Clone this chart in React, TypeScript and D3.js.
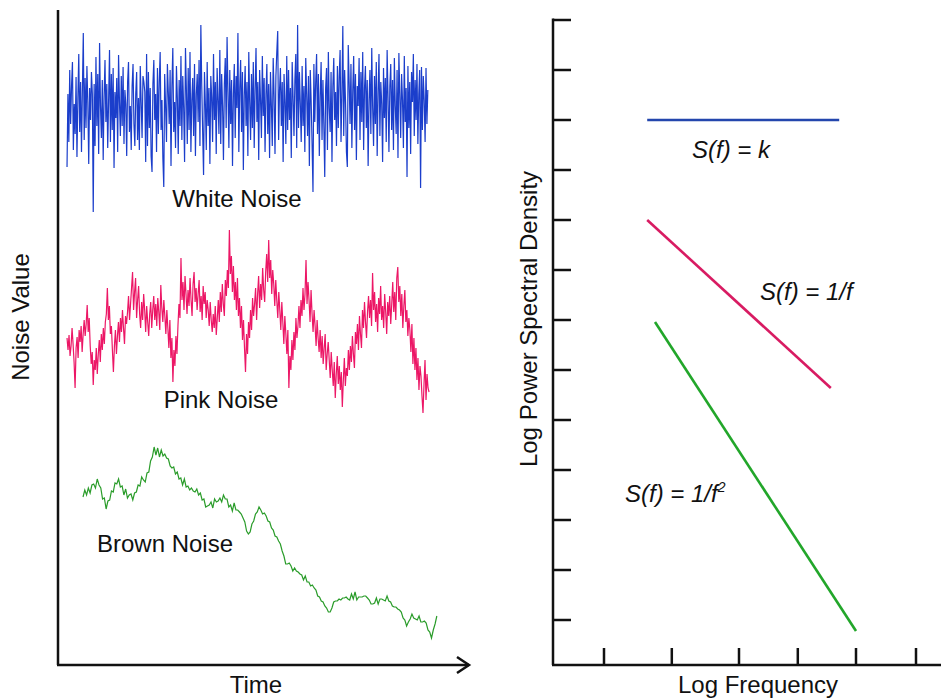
import React from "react";
import * as d3 from "d3";

// ---------- Data ----------
// Time-series noise values (offset from each trace's own baseline, up = positive)
const whiteNoise = [
  -55, 18, -30, 42, -12, 26, 50, -38, 8, -22, 35, -45, 14, 58, -20, 30, -40, 22, 79, -28,
  34, -16, 46, 10, -52, 24, -8, 40, 18, -100, 28, -34, 55, -14, 38, -42, 69, 6, -26, 32,
  -48, 16, 52, -10, 28, -36, 12, 62, -30, 38, -18, 44, -56, 20, -6, 34, -40, 57, 10, -24,
  36, -14, 45, -32, 22, 8, -44, 30, 50, -20, 6, -38, 26, 48, -12, -34, 18, 40, -28, 14,
  -38, 46, 10, -26, 36, 30, 20, -50, 58, -34, 40, -16, 24, -44, -60, 28, 52, -8, 18, -40,
  44, -22, 30, 60, -18, 12, -46, -75, 38, 6, -30, 48, 20, -12, 42, -54, 26, 64, -20, 10,
  -36, 46, 14, -42, 32, -14, 56, -28, 36, 4, -50, 64, 22, -32, 44, -18, 60, -40, 12, 34,
  -24, 48, -44, 18, 38, -10, 52, -34, 87, 26, -20, -63, 40, 8, -38, 50, -14, 24, -52, 36,
  14, -30, 58, -8, 30, -42, 44, 12, -22, 62, -32, 38, 6, -48, 28, 54, -16, 75, 20, -36,
  42, -12, 32, -54, 18, 48, -26, 36, 4, 79, -40, 24, 52, -20, 40, -58, 16, 46, -14, 30,
  -44, 60, 10, -28, 38, -16, 50, -36, 22, 64, -10, 30, -48, 42, 12, -26, 56, -4, 34, -40,
  18, 48, -22, 28, -46, 40, 6, -34, 54, 16, -42, 36, 60, 81, -28, 22, 44, -14, 30, -50,
  38, 10, -32, 56, -18, 42, -8, 24, -46, 50, 14, -24, 32, 58, -36, 87, -16, 40, 8, -30,
  46, -14, 26, -40, 54, 18, -24, 36, -54, 42, 10, -32, -80, 48, -10, 30, 58, -22, 38, -44,
  16, 50, -28, 32, -12, -65, 24, 44, -38, 60, 4, -20, 40, -50, 26, 54, -8, 20, -34, 46,
  -16, 36, 62, -30, 18, 86, -24, 42, 10, -40, -55, 67, 30, -12, 48, -36, 22, 56, -18, 38,
  -48, 26, 6, 54, -28, 40, -10, 60, -38, 24, 46, -16, 32, -54, 12, 42, -22, 64, 4, -34,
  36, -12, 50, -44, 20, 58, -24, 30, 8, -50, 44, -6, 34, -30, 62, 14, -40, 26, 48, -18,
  32, -38, 54, 6, -22, 42, -46, 59, 18, -26, 38, 12, -36, 56, -10, 24, -65, 46, -16, 30,
  -42, 40, 10, 58, -24, 32, -8, 48, -32, 18, 42, -76, 45, -18, 36, 12, -30, 44, -12, 22,
];

const pinkNoise = [
  2, -10, 5, -16, -6, 12, -4, -22, -48, -8, 3, -18, 10, -2, 14, -12, 6, 20, 4, 16,
  35, 8, 22, -6, -24, -12, -45, -20, -30, -8, -34, -14, 0, -22, 6, -10, 12, -4, 18, 26,
  52, 20, 34, 6, 14, -10, -32, -6, 10, -14, 4, 18, -2, 22, 8, 30, 12, -4, 24, 16,
  28, 44, 20, 36, 52, 68, 30, 48, 62, 22, 40, 54, 26, 12, 38, 20, 46, 30, 8, 34,
  18, 4, 26, 38, 12, 30, 44, 20, 36, 14, 42, 28, 10, 55, 32, 18, 40, 24, 6, 30,
  12, -8, 20, -18, 2, -42, -10, -26, 4, -14, 14, 36, 22, 82, 40, 58, 30, 64, 46, 26,
  50, 34, 62, 40, 24, 56, 68, 38, 52, 30, 46, 60, 28, 44, 20, 54, 36, 48, 22, 40,
  30, 14, 38, 20, 8, 26, 12, 34, 5, 22, 40, 18, 48, 28, 56, 36, 24, 60, 44, 70,
  52, 110, 66, 84, 48, 74, 40, 58, 30, 62, 24, 42, 12, 34, 0, 20, -8, -32, 6, -14,
  18, 2, 30, 10, 42, 24, 36, 52, 20, 46, 64, 32, 56, 40, 72, 50, 38, 68, 86, 58,
  100, 62, 80, 46, 70, 56, 34, 60, 40, 22, 48, 30, 10, 38, 18, -4, 24, 6, -14, 10,
  -48, -16, -30, 0, -20, 8, -10, 22, 2, 14, 34, 12, 40, 24, 52, 30, 46, 80, 36, 58,
  40, 18, 50, 26, 8, 30, 14, -6, 20, 2, -12, 10, -18, 4, -24, -8, 6, -30, -14, -2,
  -20, -38, -12, -30, -46, -22, -58, -34, -16, -44, -26, -50, -32, -67, -40, -18, -46, -28, -36, -10,
  -30, -6, -22, 4, -14, -28, 8, -4, 16, -10, 24, 6, -8, 30, 12, 38, 18, 2, 28, 44,
  22, 40, 14, 67, 30, 48, 18, 36, 8, 42, 26, 54, 20, 34, 12, 46, 28, 6, 38, 24,
  44, 16, 36, 58, 28, 48, 20, 62, 73, 38, 54, 24, 46, 12, 34, 50, 18, 30, 4, 22,
  10, -12, 16, -24, 2, -30, -8, -40, -18, -50, -26, -36, -56, -73, -44, -20, -60, -34, -48, -52,
];

const brownNoise = [
  48, 55, 50, 57, 52, 60, 61, 57, 66, 60,
  57, 46, 47, 36, 44, 45, 54, 53, 62, 61,
  66, 58, 59, 50, 56, 47, 50, 51, 45, 52,
  53, 60, 59, 68, 65, 63, 72, 73, 84, 88,
  98, 90, 97, 88, 95, 89, 91, 87, 86, 79,
  77, 78, 71, 73, 66, 67, 60, 66, 58, 59,
  55, 57, 54, 53, 56, 50, 52, 45, 46, 38,
  39, 40, 43, 37, 46, 43, 44, 47, 43, 50,
  46, 46, 38, 40, 34, 42, 35, 35, 33, 31,
  27, 23, 14, 11, 13, 21, 24, 31, 33, 38,
  35, 31, 32, 29, 24, 23, 17, 15, 9, 8,
  4, 1, -6, -11, -19, -19, -18, -21, -26, -23,
  -26, -27, -29, -30, -35, -31, -37, -37, -41, -40,
  -43, -45, -51, -52, -56, -57, -61, -63, -67, -67,
  -63, -57, -56, -56, -54, -55, -53, -53, -52, -54,
  -55, -49, -54, -47, -55, -52, -52, -52, -51, -51,
  -53, -55, -59, -59, -58, -53, -59, -54, -54, -55,
  -56, -51, -56, -57, -61, -62, -62, -64, -65, -67,
  -73, -75, -81, -77, -74, -69, -73, -74, -75, -71,
  -77, -77, -76, -78, -85, -87, -93, -85, -79, -71,
];

// Spectra: [log frequency, log power] endpoints
const whiteSpectrum: [number, number][] = [[1.57, 11], [4.77, 11]];
const pinkSpectrum: [number, number][] = [[1.57, 9], [4.63, 5.64]];
const brownSpectrum: [number, number][] = [[1.7, 6.96], [5.05, 0.78]];

const psdXTicks = [0.85, 1.98, 3.1, 4.08, 5.05, 6.05];
const psdYTicks = [1, 2, 3, 4, 5, 6, 7, 8, 9, 10, 11, 12, 13];

// ---------- Layout ----------
const W = 941;
const H = 700;
const FONT = "'Liberation Sans', Arial, Helvetica, sans-serif";

export default function App() {
  // Left panel: time vs noise value
  const tScale = d3.scaleLinear().domain([0, 100]).range([58, 468]);
  const vScale = d3.scaleLinear().domain([0, 655]).range([665, 10]);

  const traces = [
    { data: whiteNoise, t0: 2.2, t1: 90.2, base: 553, color: "#1b3ecb", width: 1.2 },
    { data: pinkNoise, t0: 2.2, t1: 90.5, base: 325, color: "#ec1766", width: 1.2 },
    { data: brownNoise, t0: 6.1, t1: 92.4, base: 120, color: "#2a9c2a", width: 1.2 },
  ];

  // Right panel: log frequency vs log PSD
  const fScale = d3.scaleLinear().domain([0, 7]).range([553, 973]);
  const sScale = d3.scaleLinear().domain([0, 13]).range([670, 20]);
  const spectra = [
    { data: whiteSpectrum, color: "#2346ad" },
    { data: pinkSpectrum, color: "#d81b62" },
    { data: brownSpectrum, color: "#22a62a" },
  ];
  const specLine = d3
    .line<[number, number]>()
    .x((d) => fScale(d[0]))
    .y((d) => sScale(d[1]));

  const axisColor = "#111";

  return (
    <svg
      width={W}
      height={H}
      style={{ position: "absolute", left: 0, top: 0, background: "#fff" }}
      fontFamily={FONT}
    >
      <rect width={W} height={H} fill="#fff" />

      {/* ----- Left panel ----- */}
      {traces.map((tr, k) => {
        const n = tr.data.length;
        const line = d3
          .line<number>()
          .x((_, i) => tScale(tr.t0 + ((tr.t1 - tr.t0) * i) / (n - 1)))
          .y((v) => vScale(tr.base + v));
        return (
          <path
            key={k}
            d={line(tr.data) || ""}
            fill="none"
            stroke={tr.color}
            strokeWidth={tr.width}
            strokeLinejoin="miter"
          />
        );
      })}

      <line x1={tScale(0)} y1={vScale(0)} x2={tScale(0)} y2={vScale(655)} stroke={axisColor} strokeWidth={2.5} />
      <line x1={tScale(0) - 1} y1={vScale(0)} x2={tScale(100) + 1} y2={vScale(0)} stroke={axisColor} strokeWidth={2.5} />
      <polyline
        points={`${tScale(100) - 11},${vScale(0) - 8} ${tScale(100) + 1},${vScale(0)} ${tScale(100) - 11},${vScale(0) + 8}`}
        fill="none"
        stroke={axisColor}
        strokeWidth={2.5}
      />

      <text x={237} y={207} fontSize={24} textAnchor="middle" fill="#111">White Noise</text>
      <text x={221} y={408} fontSize={24} textAnchor="middle" fill="#111">Pink Noise</text>
      <text x={165} y={552} fontSize={24} textAnchor="middle" fill="#111">Brown Noise</text>
      <text x={256} y={693} fontSize={24} textAnchor="middle" fill="#111">Time</text>
      <text
        transform="translate(29,317) rotate(-90)"
        fontSize={24}
        textAnchor="middle"
        fill="#111"
      >
        Noise Value
      </text>

      {/* ----- Right panel ----- */}
      {spectra.map((s, k) => (
        <path key={k} d={specLine(s.data) || ""} fill="none" stroke={s.color} strokeWidth={2.6} />
      ))}

      <line x1={fScale(0)} y1={sScale(0.1)} x2={fScale(0)} y2={sScale(13.03)} stroke={axisColor} strokeWidth={2.5} />
      <line x1={fScale(0) - 1} y1={sScale(0.1)} x2={W} y2={sScale(0.1)} stroke={axisColor} strokeWidth={2.5} />
      {psdYTicks.map((t) => (
        <line key={"y" + t} x1={fScale(0)} x2={fScale(0) + 18} y1={sScale(t)} y2={sScale(t)} stroke={axisColor} strokeWidth={2.5} />
      ))}
      {psdXTicks.map((t) => (
        <line key={"x" + t} x1={fScale(t)} x2={fScale(t)} y1={sScale(0.1)} y2={sScale(0.1) - 17} stroke={axisColor} strokeWidth={2.5} />
      ))}

      <text x={692} y={158} fontSize={24} fontStyle="italic" fill="#111">S(f) = k</text>
      <text x={760} y={300} fontSize={24} fontStyle="italic" fill="#111">S(f) = 1/f</text>
      <text x={625} y={502} fontSize={24} fontStyle="italic" fill="#111">
        S(f) = 1/f<tspan fontSize={14} dy={-10}>2</tspan>
      </text>

      <text x={758} y={693} fontSize={24} textAnchor="middle" fill="#111">Log Frequency</text>
      <text
        transform="translate(537,319) rotate(-90)"
        fontSize={24}
        textAnchor="middle"
        fill="#111"
      >
        Log Power Spectral Density
      </text>
    </svg>
  );
}
